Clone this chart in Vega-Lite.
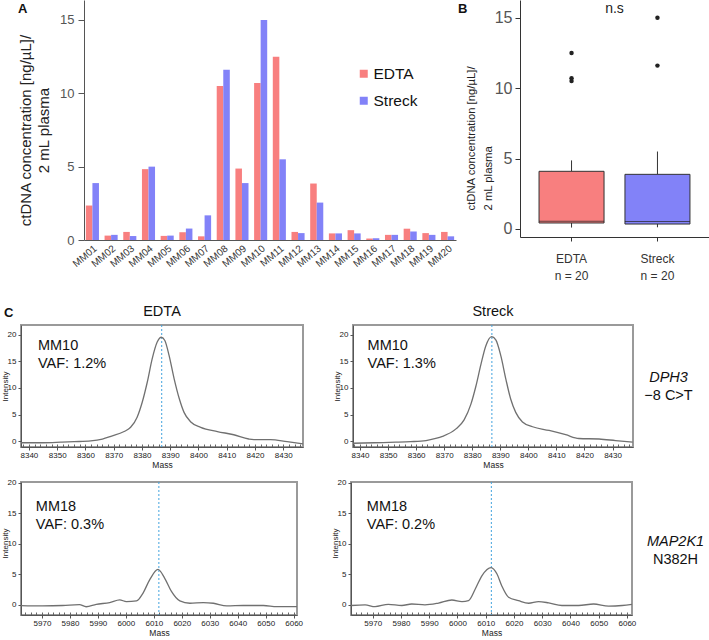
{
 "$schema": "https://vega.github.io/schema/vega-lite/v6.json",
 "padding": 0,
 "background": "white",
 "config": {
  "font": "Liberation Sans",
  "view": {"stroke": null},
  "axis": {"grid": false, "labelFont": "Liberation Sans", "titleFont": "Liberation Sans", "titleFontWeight": "normal"},
  "legend": {"labelFont": "Liberation Sans"},
  "title": {"font": "Liberation Sans"},
  "text": {"font": "Liberation Sans"}
 },
 "datasets": {
  "conc": [
   {"sample": "MM01", "tube": "EDTA", "value": 2.35}, {"sample": "MM01", "tube": "Streck", "value": 3.88},
   {"sample": "MM02", "tube": "EDTA", "value": 0.3}, {"sample": "MM02", "tube": "Streck", "value": 0.35},
   {"sample": "MM03", "tube": "EDTA", "value": 0.55}, {"sample": "MM03", "tube": "Streck", "value": 0.27},
   {"sample": "MM04", "tube": "EDTA", "value": 4.83}, {"sample": "MM04", "tube": "Streck", "value": 5.0},
   {"sample": "MM05", "tube": "EDTA", "value": 0.28}, {"sample": "MM05", "tube": "Streck", "value": 0.3},
   {"sample": "MM06", "tube": "EDTA", "value": 0.53}, {"sample": "MM06", "tube": "Streck", "value": 0.78},
   {"sample": "MM07", "tube": "EDTA", "value": 0.25}, {"sample": "MM07", "tube": "Streck", "value": 1.68},
   {"sample": "MM08", "tube": "EDTA", "value": 10.5}, {"sample": "MM08", "tube": "Streck", "value": 11.6},
   {"sample": "MM09", "tube": "EDTA", "value": 4.87}, {"sample": "MM09", "tube": "Streck", "value": 3.88},
   {"sample": "MM10", "tube": "EDTA", "value": 10.7}, {"sample": "MM10", "tube": "Streck", "value": 15.0},
   {"sample": "MM11", "tube": "EDTA", "value": 12.5}, {"sample": "MM11", "tube": "Streck", "value": 5.5},
   {"sample": "MM12", "tube": "EDTA", "value": 0.55}, {"sample": "MM12", "tube": "Streck", "value": 0.47},
   {"sample": "MM13", "tube": "EDTA", "value": 3.85}, {"sample": "MM13", "tube": "Streck", "value": 2.55},
   {"sample": "MM14", "tube": "EDTA", "value": 0.45}, {"sample": "MM14", "tube": "Streck", "value": 0.45},
   {"sample": "MM15", "tube": "EDTA", "value": 0.67}, {"sample": "MM15", "tube": "Streck", "value": 0.45},
   {"sample": "MM16", "tube": "EDTA", "value": 0.1}, {"sample": "MM16", "tube": "Streck", "value": 0.12},
   {"sample": "MM17", "tube": "EDTA", "value": 0.35}, {"sample": "MM17", "tube": "Streck", "value": 0.35},
   {"sample": "MM18", "tube": "EDTA", "value": 0.77}, {"sample": "MM18", "tube": "Streck", "value": 0.58},
   {"sample": "MM19", "tube": "EDTA", "value": 0.47}, {"sample": "MM19", "tube": "Streck", "value": 0.35},
   {"sample": "MM20", "tube": "EDTA", "value": 0.55}, {"sample": "MM20", "tube": "Streck", "value": 0.25}
  ],
  "peaks": [
   {"panel": "TL", "mass": 8387.0}, {"panel": "TR", "mass": 8387.0},
   {"panel": "BL", "mass": 6011.8}, {"panel": "BR", "mass": 6012.0}
  ],
  "spectra": [
   {"panel": "TL", "mass": 8337.2, "intensity": -0.3}, {"panel": "TL", "mass": 8345, "intensity": -0.3},
   {"panel": "TL", "mass": 8351.3, "intensity": -0.2}, {"panel": "TL", "mass": 8356, "intensity": -0.1},
   {"panel": "TL", "mass": 8361.9, "intensity": 0.05}, {"panel": "TL", "mass": 8366, "intensity": 0.4},
   {"panel": "TL", "mass": 8369, "intensity": 0.9}, {"panel": "TL", "mass": 8373.7, "intensity": 1.8},
   {"panel": "TL", "mass": 8376, "intensity": 2.6}, {"panel": "TL", "mass": 8378.3, "intensity": 4.5},
   {"panel": "TL", "mass": 8380.1, "intensity": 7.3}, {"panel": "TL", "mass": 8381.9, "intensity": 11.1},
   {"panel": "TL", "mass": 8383.6, "intensity": 15.4}, {"panel": "TL", "mass": 8385.4, "intensity": 18.6},
   {"panel": "TL", "mass": 8386.9, "intensity": 19.5}, {"panel": "TL", "mass": 8388.1, "intensity": 18.9},
   {"panel": "TL", "mass": 8389.6, "intensity": 16.1}, {"panel": "TL", "mass": 8391.4, "intensity": 11.7},
   {"panel": "TL", "mass": 8393.2, "intensity": 8.0}, {"panel": "TL", "mass": 8394.9, "intensity": 5.4},
   {"panel": "TL", "mass": 8397.3, "intensity": 3.6}, {"panel": "TL", "mass": 8400.8, "intensity": 2.6},
   {"panel": "TL", "mass": 8406.7, "intensity": 1.8}, {"panel": "TL", "mass": 8412.5, "intensity": 1.2},
   {"panel": "TL", "mass": 8417.8, "intensity": 0.4}, {"panel": "TL", "mass": 8419.6, "intensity": 0.3},
   {"panel": "TL", "mass": 8425.5, "intensity": 0.3}, {"panel": "TL", "mass": 8431.4, "intensity": -0.1},
   {"panel": "TL", "mass": 8437, "intensity": -0.5},
   {"panel": "TR", "mass": 8337.5, "intensity": -0.4}, {"panel": "TR", "mass": 8345, "intensity": -0.3},
   {"panel": "TR", "mass": 8352.8, "intensity": -0.2}, {"panel": "TR", "mass": 8358, "intensity": -0.1},
   {"panel": "TR", "mass": 8363.5, "intensity": 0.1}, {"panel": "TR", "mass": 8367, "intensity": 0.5},
   {"panel": "TR", "mass": 8369.4, "intensity": 0.9}, {"panel": "TR", "mass": 8374.2, "intensity": 2.3},
   {"panel": "TR", "mass": 8377.1, "intensity": 4.0}, {"panel": "TR", "mass": 8379.5, "intensity": 6.9},
   {"panel": "TR", "mass": 8381.3, "intensity": 10.3}, {"panel": "TR", "mass": 8383.1, "intensity": 14.4},
   {"panel": "TR", "mass": 8384.8, "intensity": 17.8}, {"panel": "TR", "mass": 8386.9, "intensity": 19.6},
   {"panel": "TR", "mass": 8388.4, "intensity": 19.0}, {"panel": "TR", "mass": 8390.2, "intensity": 16.0},
   {"panel": "TR", "mass": 8392.0, "intensity": 11.6}, {"panel": "TR", "mass": 8393.7, "intensity": 7.9},
   {"panel": "TR", "mass": 8395.5, "intensity": 5.4}, {"panel": "TR", "mass": 8397.9, "intensity": 3.6},
   {"panel": "TR", "mass": 8401.5, "intensity": 2.7}, {"panel": "TR", "mass": 8407.4, "intensity": 2.0},
   {"panel": "TR", "mass": 8413.3, "intensity": 1.2}, {"panel": "TR", "mass": 8418, "intensity": 0.5},
   {"panel": "TR", "mass": 8425.2, "intensity": 0.4}, {"panel": "TR", "mass": 8431.1, "intensity": 0.1},
   {"panel": "TR", "mass": 8437.2, "intensity": -0.2},
   {"panel": "BL", "mass": 5962.5, "intensity": -0.1}, {"panel": "BL", "mass": 5970.2, "intensity": -0.16},
   {"panel": "BL", "mass": 5977.4, "intensity": -0.1}, {"panel": "BL", "mass": 5983.4, "intensity": 0.05},
   {"panel": "BL", "mass": 5985.8, "intensity": -0.3}, {"panel": "BL", "mass": 5989.4, "intensity": 0.1},
   {"panel": "BL", "mass": 5994.2, "intensity": 0.38}, {"panel": "BL", "mass": 5997.8, "intensity": 0.82},
   {"panel": "BL", "mass": 6000.2, "intensity": 0.54}, {"panel": "BL", "mass": 6003.8, "intensity": 0.65},
   {"panel": "BL", "mass": 6006.1, "intensity": 1.9}, {"panel": "BL", "mass": 6008.5, "intensity": 4.1},
   {"panel": "BL", "mass": 6011.5, "intensity": 5.8}, {"panel": "BL", "mass": 6013.9, "intensity": 4.35},
   {"panel": "BL", "mass": 6016.3, "intensity": 2.2}, {"panel": "BL", "mass": 6019.3, "intensity": 0.65},
   {"panel": "BL", "mass": 6022.9, "intensity": 0.27}, {"panel": "BL", "mass": 6027.7, "intensity": 0.38},
   {"panel": "BL", "mass": 6031.3, "intensity": 0.27}, {"panel": "BL", "mass": 6036.1, "intensity": -0.16},
   {"panel": "BL", "mass": 6042, "intensity": -0.1}, {"panel": "BL", "mass": 6049.2, "intensity": -0.1},
   {"panel": "BL", "mass": 6054, "intensity": -0.27}, {"panel": "BL", "mass": 6061.2, "intensity": -0.27},
   {"panel": "BR", "mass": 5962.3, "intensity": -0.1}, {"panel": "BR", "mass": 5967.3, "intensity": 0.0},
   {"panel": "BR", "mass": 5970.8, "intensity": -0.28}, {"panel": "BR", "mass": 5975.5, "intensity": 0.1},
   {"panel": "BR", "mass": 5980.3, "intensity": -0.1}, {"panel": "BR", "mass": 5983.8, "intensity": 0.15},
   {"panel": "BR", "mass": 5988.5, "intensity": 0.0}, {"panel": "BR", "mass": 5993.3, "intensity": 0.3},
   {"panel": "BR", "mass": 5998, "intensity": 0.8}, {"panel": "BR", "mass": 6001.6, "intensity": 0.54},
   {"panel": "BR", "mass": 6003.9, "intensity": 0.7}, {"panel": "BR", "mass": 6006.3, "intensity": 2.6},
   {"panel": "BR", "mass": 6008.7, "intensity": 4.8}, {"panel": "BR", "mass": 6011.9, "intensity": 6.1},
   {"panel": "BR", "mass": 6014, "intensity": 5.05}, {"panel": "BR", "mass": 6015.7, "intensity": 3.1},
   {"panel": "BR", "mass": 6018.1, "intensity": 1.25}, {"panel": "BR", "mass": 6021.6, "intensity": 0.7},
   {"panel": "BR", "mass": 6025.2, "intensity": 0.27}, {"panel": "BR", "mass": 6028.7, "intensity": 0.54},
   {"panel": "BR", "mass": 6032.3, "intensity": 0.33}, {"panel": "BR", "mass": 6037, "intensity": -0.1},
   {"panel": "BR", "mass": 6042.9, "intensity": -0.1}, {"panel": "BR", "mass": 6048.2, "intensity": 0.15},
   {"panel": "BR", "mass": 6053.5, "intensity": -0.2}, {"panel": "BR", "mass": 6058.3, "intensity": -0.1},
   {"panel": "BR", "mass": 6061.8, "intensity": 0.1}
  ]
 },
 "spacing": 3,
 "resolve": {"scale": {"color": "independent"}, "legend": {"color": "independent"}},
 "vconcat": [
  {
   "spacing": 30,
   "bounds": "flush",
   "resolve": {"scale": {"color": "independent"}, "legend": {"color": "independent"}},
   "hconcat": [
    {"width": 33, "height": 299, "view": {"fill": "white"}, "data": {"values": []}, "mark": "point", "encoding": {},
     "title": {"text": "A", "anchor": "start", "frame": "group", "dx": -3, "offset": -26, "baseline": "alphabetic", "fontSize": 13, "fontWeight": "bold", "color": "#111"}},
    {
     "width": 372,
     "height": 240,
     "data": {"name": "conc"},
     "title": {"text": "B", "anchor": "start", "frame": "group", "dx": 374, "offset": -26, "baseline": "alphabetic", "fontSize": 13, "fontWeight": "bold", "color": "#111"},
     "mark": {"type": "bar"},
     "encoding": {
      "x": {"field": "sample", "type": "nominal", "sort": null,
            "scale": {"paddingInner": 0.3, "paddingOuter": 0.1},
            "axis": {"title": null, "labelAngle": -40, "labelFontSize": 10, "labelColor": "#333", "ticks": false, "labelPadding": 3, "domainColor": "#555", "labelOverlap": false}},
      "xOffset": {"field": "tube", "type": "nominal", "sort": ["EDTA", "Streck"]},
      "y": {"field": "value", "type": "quantitative",
            "scale": {"domain": [0, 16.36], "nice": false},
            "axis": {"values": [0, 5, 10, 15], "title": ["ctDNA concentration [ng/µL]/", "2 mL plasma"], "titleFontSize": 15, "titleLineHeight": 18, "titleY": 130, "titlePadding": 8, "titleColor": "#222", "labelFontSize": 13, "labelColor": "#555", "tickSize": 6, "tickColor": "#555", "domainColor": "#555", "labelPadding": 4}},
      "color": {"field": "tube", "type": "nominal",
                "scale": {"domain": ["EDTA", "Streck"], "range": ["#f87f7f", "#8282f8"]},
                "legend": {"orient": "none", "legendX": 272, "legendY": 66, "title": null, "symbolType": "square", "symbolSize": 64, "symbolStrokeWidth": 0, "labelFontSize": 15.5, "labelColor": "#111", "rowPadding": 10, "labelOffset": 2}}
     }
    },
    {"width": 4, "height": 1, "data": {"values": []}, "mark": "point", "encoding": {}},
    {
     "width": 189,
     "height": 237,
     "data": {"name": "conc"},
     "title": {"text": "n.s", "anchor": "middle", "frame": "group", "offset": -27, "baseline": "alphabetic", "fontSize": 14, "fontWeight": "normal", "color": "#222"},
     "encoding": {
      "x": {"field": "tube", "type": "nominal",
            "scale": {"paddingInner": 0.3, "paddingOuter": 0.25},
            "axis": {"title": null, "labelAngle": 0, "labelExpr": "[datum.label, 'n = 20']", "labelFontSize": 12, "labelLineHeight": 17, "labelColor": "#333", "tickSize": 4, "labelPadding": 12, "domainColor": "#333", "tickColor": "#333"}},
      "y": {"field": "value", "type": "quantitative",
            "scale": {"domain": [-0.57, 16.26], "nice": false, "zero": false},
            "axis": {"values": [0, 5, 10, 15], "title": ["ctDNA concentration [ng/µL]/", "2 mL plasma"], "titleFontSize": 11.3, "titleLineHeight": 17, "titleAlign": "left", "titleY": 210, "titlePadding": 1, "titleColor": "#222", "labelFontSize": 16, "labelColor": "#555", "tickSize": 5, "tickColor": "#333", "domainColor": "#333", "labelPadding": 3}}
     },
     "layer": [
      {"mark": {"type": "boxplot", "extent": 1.5, "size": 65,
                "box": {"stroke": "#333", "strokeWidth": 1},
                "median": {"color": "#222", "strokeWidth": 2.5},
                "rule": {"color": "#333", "strokeWidth": 1},
                "ticks": false,
                "outliers": false},
       "encoding": {
        "color": {"field": "tube", "type": "nominal",
                  "scale": {"domain": ["EDTA", "Streck"], "range": ["#f87f7f", "#8282f8"]},
                  "legend": null}}},
      {"transform": [
        {"joinaggregate": [{"op": "q1", "field": "value", "as": "q1"}, {"op": "q3", "field": "value", "as": "q3"}], "groupby": ["tube"]},
        {"filter": "datum.value > datum.q3 + 1.5 * (datum.q3 - datum.q1)"}
       ],
       "mark": {"type": "circle", "color": "#222", "size": 20, "opacity": 1}}
     ]
    }
   ]
  },
  {
   "spacing": 50,
   "bounds": "flush",
   "hconcat": [
    {
     "width": 282, "height": 122,
     "view": {"stroke": "#9a9a9a", "strokeWidth": 2},
     "title": {"text": "C", "anchor": "start", "frame": "group", "dx": -17, "offset": -26.5, "baseline": "alphabetic", "fontSize": 13, "fontWeight": "bold", "color": "#111"},
     "resolve": {"axis": {"x": "independent"}},
     "layer": [
      {"data": {"name": "peaks"}, "transform": [{"filter": "datum.panel == 'TL'"}],
       "mark": {"type": "rule", "color": "#43a3de", "strokeDash": [2, 2], "strokeWidth": 1},
       "encoding": {"x": {"field": "mass", "type": "quantitative", "scale": {"domain": [8337.2, 8437], "nice": false, "zero": false},
                          "axis": {"orient": "bottom", "tickCount": 50, "labels": false, "domain": false, "tickSize": -3, "title": null, "tickColor": "#666"}}}},
      {"data": {"name": "spectra"}, "transform": [{"filter": "datum.panel == 'TL'"}],
       "mark": {"type": "line", "color": "#707070", "strokeWidth": 1.3, "interpolate": "monotone"},
       "encoding": {
        "x": {"field": "mass", "type": "quantitative", "scale": {"domain": [8337.2, 8437], "nice": false, "zero": false},
              "axis": {"orient": "bottom", "tickCount": 10, "format": "d", "title": "Mass", "titleFontSize": 8.5, "titlePadding": 1, "titleColor": "#222", "labelFontSize": 8, "labelPadding": 1, "labelColor": "#222", "labelOverlap": false, "labelFlush": false, "tickSize": 3, "tickColor": "#555", "domainColor": "#555"}},
        "y": {"field": "intensity", "type": "quantitative", "scale": {"domain": [-1.1, 21.8], "nice": false, "zero": false},
              "axis": {"values": [0, 5, 10, 15, 20], "title": "Intensity", "titleFontSize": 8, "titleX": -12, "titleY": 61, "titleAngle": 270, "titleBaseline": "bottom", "titleAlign": "center", "titleColor": "#222", "labelFontSize": 8, "labelPadding": 2, "labelColor": "#222", "tickSize": 3, "tickColor": "#555", "domainColor": "#555"}}
       }},
      {"data": {"values": [{}]},
       "mark": {"type": "text", "align": "left", "baseline": "alphabetic", "fontSize": 14.5, "lineHeight": 17.5, "color": "#111"},
       "encoding": {
        "x": {"datum": 8343.2, "type": "quantitative", "scale": {"domain": [8337.2, 8437], "nice": false, "zero": false}, "axis": null},
        "y": {"datum": 17.1, "type": "quantitative", "scale": {"domain": [-1.1, 21.8], "nice": false, "zero": false},
              "axis": {"values": [0, 5, 10, 15, 20], "title": "Intensity", "titleFontSize": 8, "titleX": -12, "titleY": 61, "titleAngle": 270, "titleBaseline": "bottom", "titleAlign": "center", "titleColor": "#222", "labelFontSize": 8, "labelPadding": 2, "labelColor": "#222", "tickSize": 3, "tickColor": "#555", "domainColor": "#555"}},
        "text": {"value": ["MM10", "VAF: 1.2%"]}}},
      {"data": {"values": [{}]},
       "mark": {"type": "text", "align": "center", "baseline": "alphabetic", "fontSize": 14.5, "color": "#111"},
       "encoding": {
        "x": {"datum": 8387.1, "type": "quantitative", "scale": {"domain": [8337.2, 8437], "nice": false, "zero": false}, "axis": null},
        "y": {"datum": 23.5, "type": "quantitative", "scale": {"domain": [-1.1, 21.8], "nice": false, "zero": false},
              "axis": {"values": [0, 5, 10, 15, 20], "title": "Intensity", "titleFontSize": 8, "titleX": -12, "titleY": 61, "titleAngle": 270, "titleBaseline": "bottom", "titleAlign": "center", "titleColor": "#222", "labelFontSize": 8, "labelPadding": 2, "labelColor": "#222", "tickSize": 3, "tickColor": "#555", "domainColor": "#555"}},
        "text": {"value": "EDTA"}}}
     ]
    },
    {
     "width": 280, "height": 122,
     "view": {"stroke": "#9a9a9a", "strokeWidth": 2},
     "resolve": {"axis": {"x": "independent"}},
     "layer": [
      {"data": {"name": "peaks"}, "transform": [{"filter": "datum.panel == 'TR'"}],
       "mark": {"type": "rule", "color": "#43a3de", "strokeDash": [2, 2], "strokeWidth": 1},
       "encoding": {"x": {"field": "mass", "type": "quantitative", "scale": {"domain": [8337.5, 8437.3], "nice": false, "zero": false},
                          "axis": {"orient": "bottom", "tickCount": 50, "labels": false, "domain": false, "tickSize": -3, "title": null, "tickColor": "#666"}}}},
      {"data": {"name": "spectra"}, "transform": [{"filter": "datum.panel == 'TR'"}],
       "mark": {"type": "line", "color": "#707070", "strokeWidth": 1.3, "interpolate": "monotone"},
       "encoding": {
        "x": {"field": "mass", "type": "quantitative", "scale": {"domain": [8337.5, 8437.3], "nice": false, "zero": false},
              "axis": {"orient": "bottom", "tickCount": 10, "format": "d", "title": "Mass", "titleFontSize": 8.5, "titlePadding": 1, "titleColor": "#222", "labelFontSize": 8, "labelPadding": 1, "labelColor": "#222", "labelOverlap": false, "labelFlush": false, "tickSize": 3, "tickColor": "#555", "domainColor": "#555"}},
        "y": {"field": "intensity", "type": "quantitative", "scale": {"domain": [-1.1, 21.8], "nice": false, "zero": false},
              "axis": {"values": [0, 5, 10, 15, 20], "title": "Intensity", "titleFontSize": 8, "titleX": -12, "titleY": 61, "titleAngle": 270, "titleBaseline": "bottom", "titleAlign": "center", "titleColor": "#222", "labelFontSize": 8, "labelPadding": 2, "labelColor": "#222", "tickSize": 3, "tickColor": "#555", "domainColor": "#555"}}
       }},
      {"data": {"values": [{}]},
       "mark": {"type": "text", "align": "left", "baseline": "alphabetic", "fontSize": 14.5, "lineHeight": 17.5, "color": "#111"},
       "encoding": {
        "x": {"datum": 8342.7, "type": "quantitative", "scale": {"domain": [8337.5, 8437.3], "nice": false, "zero": false}, "axis": null},
        "y": {"datum": 17.1, "type": "quantitative", "scale": {"domain": [-1.1, 21.8], "nice": false, "zero": false},
              "axis": {"values": [0, 5, 10, 15, 20], "title": "Intensity", "titleFontSize": 8, "titleX": -12, "titleY": 61, "titleAngle": 270, "titleBaseline": "bottom", "titleAlign": "center", "titleColor": "#222", "labelFontSize": 8, "labelPadding": 2, "labelColor": "#222", "tickSize": 3, "tickColor": "#555", "domainColor": "#555"}},
        "text": {"value": ["MM10", "VAF: 1.3%"]}}},
      {"data": {"values": [{}]},
       "mark": {"type": "text", "align": "center", "baseline": "alphabetic", "fontSize": 14.5, "color": "#111"},
       "encoding": {
        "x": {"datum": 8387.4, "type": "quantitative", "scale": {"domain": [8337.5, 8437.3], "nice": false, "zero": false}, "axis": null},
        "y": {"datum": 23.5, "type": "quantitative", "scale": {"domain": [-1.1, 21.8], "nice": false, "zero": false},
              "axis": {"values": [0, 5, 10, 15, 20], "title": "Intensity", "titleFontSize": 8, "titleX": -12, "titleY": 61, "titleAngle": 270, "titleBaseline": "bottom", "titleAlign": "center", "titleColor": "#222", "labelFontSize": 8, "labelPadding": 2, "labelColor": "#222", "tickSize": 3, "tickColor": "#555", "domainColor": "#555"}},
        "text": {"value": "Streck"}}}
     ]
    },
    {"width": 1, "height": 149, "data": {"values": []}, "mark": "point", "encoding": {},
     "title": {"text": "DPH3", "subtitle": "−8 C>T", "anchor": "middle", "frame": "group", "dx": -15, "fontStyle": "italic", "fontWeight": "normal", "fontSize": 14.5, "color": "#111", "subtitleFontSize": 14.5, "subtitleFontStyle": "normal", "subtitleColor": "#111", "subtitlePadding": 3, "offset": -78}}
   ]
  },
  {
   "spacing": 54,
   "bounds": "flush",
   "hconcat": [
    {
     "width": 276, "height": 133,
     "view": {"stroke": "#9a9a9a", "strokeWidth": 2},
     "resolve": {"axis": {"x": "independent"}},
     "layer": [
      {"data": {"name": "peaks"}, "transform": [{"filter": "datum.panel == 'BL'"}],
       "mark": {"type": "rule", "color": "#43a3de", "strokeDash": [2, 2], "strokeWidth": 1},
       "encoding": {"x": {"field": "mass", "type": "quantitative", "scale": {"domain": [5962.5, 6061.2], "nice": false, "zero": false},
                          "axis": {"orient": "bottom", "tickCount": 50, "labels": false, "domain": false, "tickSize": -3, "title": null, "tickColor": "#666"}}}},
      {"data": {"name": "spectra"}, "transform": [{"filter": "datum.panel == 'BL'"}],
       "mark": {"type": "line", "color": "#707070", "strokeWidth": 1.3, "interpolate": "monotone"},
       "encoding": {
        "x": {"field": "mass", "type": "quantitative", "scale": {"domain": [5962.5, 6061.2], "nice": false, "zero": false},
              "axis": {"orient": "bottom", "tickCount": 10, "format": "d", "title": "Mass", "titleFontSize": 8.5, "titlePadding": 1, "titleColor": "#222", "labelFontSize": 8, "labelPadding": 1, "labelColor": "#222", "labelOverlap": false, "labelFlush": false, "tickSize": 3, "tickColor": "#555", "domainColor": "#555"}},
        "y": {"field": "intensity", "type": "quantitative", "scale": {"domain": [-1.65, 20.1], "nice": false, "zero": false},
              "axis": {"values": [0, 5, 10, 15, 20], "title": "Intensity", "titleFontSize": 8, "titleX": -12, "titleY": 61, "titleAngle": 270, "titleBaseline": "bottom", "titleAlign": "center", "titleColor": "#222", "labelFontSize": 8, "labelPadding": 2, "labelColor": "#222", "tickSize": 3, "tickColor": "#555", "domainColor": "#555"}}
       }},
      {"data": {"values": [{}]},
       "mark": {"type": "text", "align": "left", "baseline": "alphabetic", "fontSize": 14.5, "lineHeight": 18, "color": "#111"},
       "encoding": {
        "x": {"datum": 5967.8, "type": "quantitative", "scale": {"domain": [5962.5, 6061.2], "nice": false, "zero": false}, "axis": null},
        "y": {"datum": 15.3, "type": "quantitative", "scale": {"domain": [-1.65, 20.1], "nice": false, "zero": false},
              "axis": {"values": [0, 5, 10, 15, 20], "title": "Intensity", "titleFontSize": 8, "titleX": -12, "titleY": 61, "titleAngle": 270, "titleBaseline": "bottom", "titleAlign": "center", "titleColor": "#222", "labelFontSize": 8, "labelPadding": 2, "labelColor": "#222", "tickSize": 3, "tickColor": "#555", "domainColor": "#555"}},
        "text": {"value": ["MM18", "VAF: 0.3%"]}}}
     ]
    },
    {
     "width": 281, "height": 133,
     "view": {"stroke": "#9a9a9a", "strokeWidth": 2},
     "resolve": {"axis": {"x": "independent"}},
     "layer": [
      {"data": {"name": "peaks"}, "transform": [{"filter": "datum.panel == 'BR'"}],
       "mark": {"type": "rule", "color": "#43a3de", "strokeDash": [2, 2], "strokeWidth": 1},
       "encoding": {"x": {"field": "mass", "type": "quantitative", "scale": {"domain": [5962.3, 6061.8], "nice": false, "zero": false},
                          "axis": {"orient": "bottom", "tickCount": 50, "labels": false, "domain": false, "tickSize": -3, "title": null, "tickColor": "#666"}}}},
      {"data": {"name": "spectra"}, "transform": [{"filter": "datum.panel == 'BR'"}],
       "mark": {"type": "line", "color": "#707070", "strokeWidth": 1.3, "interpolate": "monotone"},
       "encoding": {
        "x": {"field": "mass", "type": "quantitative", "scale": {"domain": [5962.3, 6061.8], "nice": false, "zero": false},
              "axis": {"orient": "bottom", "tickCount": 10, "format": "d", "title": "Mass", "titleFontSize": 8.5, "titlePadding": 1, "titleColor": "#222", "labelFontSize": 8, "labelPadding": 1, "labelColor": "#222", "labelOverlap": false, "labelFlush": false, "tickSize": 3, "tickColor": "#555", "domainColor": "#555"}},
        "y": {"field": "intensity", "type": "quantitative", "scale": {"domain": [-1.65, 20.1], "nice": false, "zero": false},
              "axis": {"values": [0, 5, 10, 15, 20], "title": "Intensity", "titleFontSize": 8, "titleX": -12, "titleY": 61, "titleAngle": 270, "titleBaseline": "bottom", "titleAlign": "center", "titleColor": "#222", "labelFontSize": 8, "labelPadding": 2, "labelColor": "#222", "tickSize": 3, "tickColor": "#555", "domainColor": "#555"}}
       }},
      {"data": {"values": [{}]},
       "mark": {"type": "text", "align": "left", "baseline": "alphabetic", "fontSize": 14.5, "lineHeight": 18, "color": "#111"},
       "encoding": {
        "x": {"datum": 5967.9, "type": "quantitative", "scale": {"domain": [5962.3, 6061.8], "nice": false, "zero": false}, "axis": null},
        "y": {"datum": 15.3, "type": "quantitative", "scale": {"domain": [-1.65, 20.1], "nice": false, "zero": false},
              "axis": {"values": [0, 5, 10, 15, 20], "title": "Intensity", "titleFontSize": 8, "titleX": -12, "titleY": 61, "titleAngle": 270, "titleBaseline": "bottom", "titleAlign": "center", "titleColor": "#222", "labelFontSize": 8, "labelPadding": 2, "labelColor": "#222", "tickSize": 3, "tickColor": "#555", "domainColor": "#555"}},
        "text": {"value": ["MM18", "VAF: 0.2%"]}}}
     ]
    },
    {"width": 1, "height": 133, "data": {"values": []}, "mark": "point", "encoding": {},
     "title": {"text": "MAP2K1", "subtitle": "N382H", "anchor": "middle", "frame": "group", "dx": -11, "fontStyle": "italic", "fontWeight": "normal", "fontSize": 14.5, "color": "#111", "subtitleFontSize": 14.5, "subtitleFontStyle": "normal", "subtitleColor": "#111", "subtitlePadding": 3, "offset": -85}}
   ]
  }
 ]
}
